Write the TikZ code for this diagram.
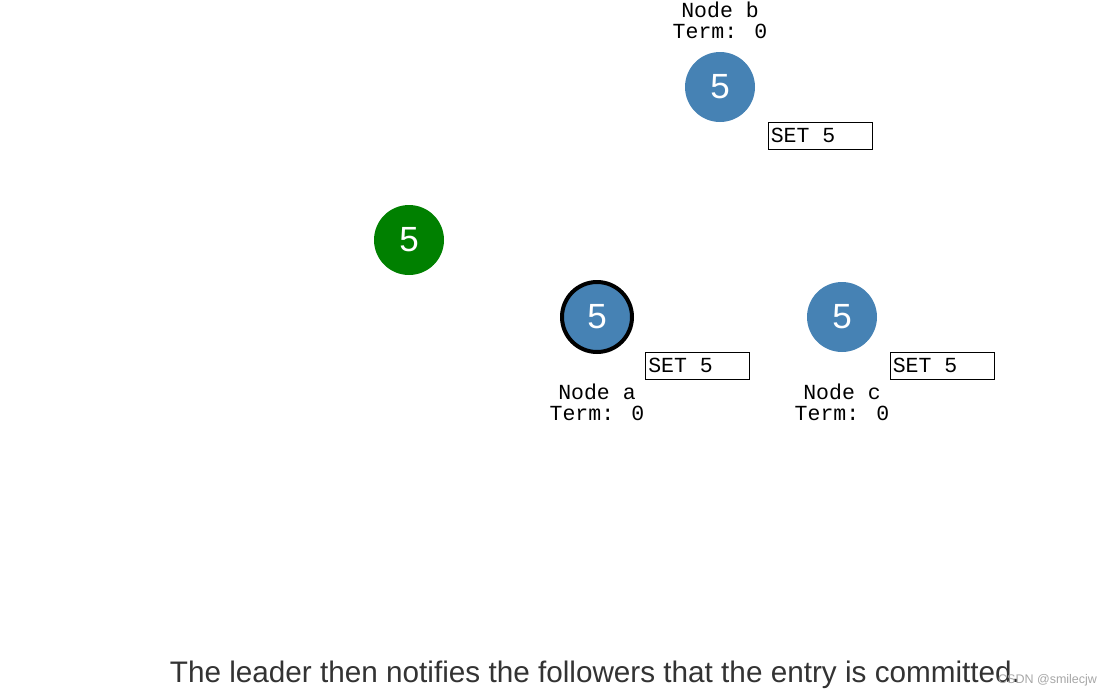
\documentclass[tikz,border=0pt]{standalone}
\usepackage{fontspec}
\setmainfont{Liberation Sans}
\newfontfamily\monof{Liberation Mono}
\definecolor{steel}{HTML}{4682B4}
\definecolor{leadgreen}{HTML}{008000}
\definecolor{captiongray}{HTML}{333333}
\begin{document}
\begin{tikzpicture}[x=1pt,y=-1pt,
  srv/.style={circle,fill=steel,minimum size=70pt,inner sep=0pt,text=white,font=\fontsize{35}{35}\selectfont},
  ldr/.style={srv,draw=black,line width=4pt,minimum size=70pt},
  cli/.style={circle,fill=leadgreen,minimum size=70pt,inner sep=0pt,text=white,font=\fontsize{35}{35}\selectfont},
  setbox/.style={draw=black,line width=0.8pt,minimum width=104pt,minimum height=27pt,inner sep=0pt},
  settext/.style={anchor=west,inner sep=0pt,xshift=3pt,font=\monof\fontsize{21.5}{21.5}\selectfont},
  lbl/.style={align=center,font=\monof\fontsize{21.5}{21}\selectfont,inner sep=0pt}]
\useasboundingbox (0,0) rectangle (1114,697);
\node[srv] (b) at (720,87) {5};
\node[cli] (cl) at (409,240) {5};
\node[ldr] (a) at (597,317) {5};
\node[srv] (c) at (842,317) {5};
\node[setbox] (sb) at (820,135.5) {};
\node[setbox] (sa) at (697.5,365.5) {};
\node[setbox] (sc) at (942,365.5) {};
\node[settext] (sbt) at (sb.west) {SET 5};
\node[settext] (sat) at (sa.west) {SET 5};
\node[settext] (sct) at (sc.west) {SET 5};
\node[lbl] (lb) at (720,20) {Node b\\Term: 0};
\node[lbl] (la) at (597,402) {Node a\\Term: 0};
\node[lbl] (lc) at (842,402) {Node c\\Term: 0};
\node[text=captiongray,font=\fontsize{29.7}{29.7}\selectfont,inner sep=0pt] (cap) at (595,675) {The leader then notifies the followers that the entry is committed.};
\node[text=black!35,font=\fontsize{12.5}{12.5}\selectfont,inner sep=0pt,anchor=west] (wm) at (998,680) {CSDN @smilecjw};
\end{tikzpicture}
\end{document}
